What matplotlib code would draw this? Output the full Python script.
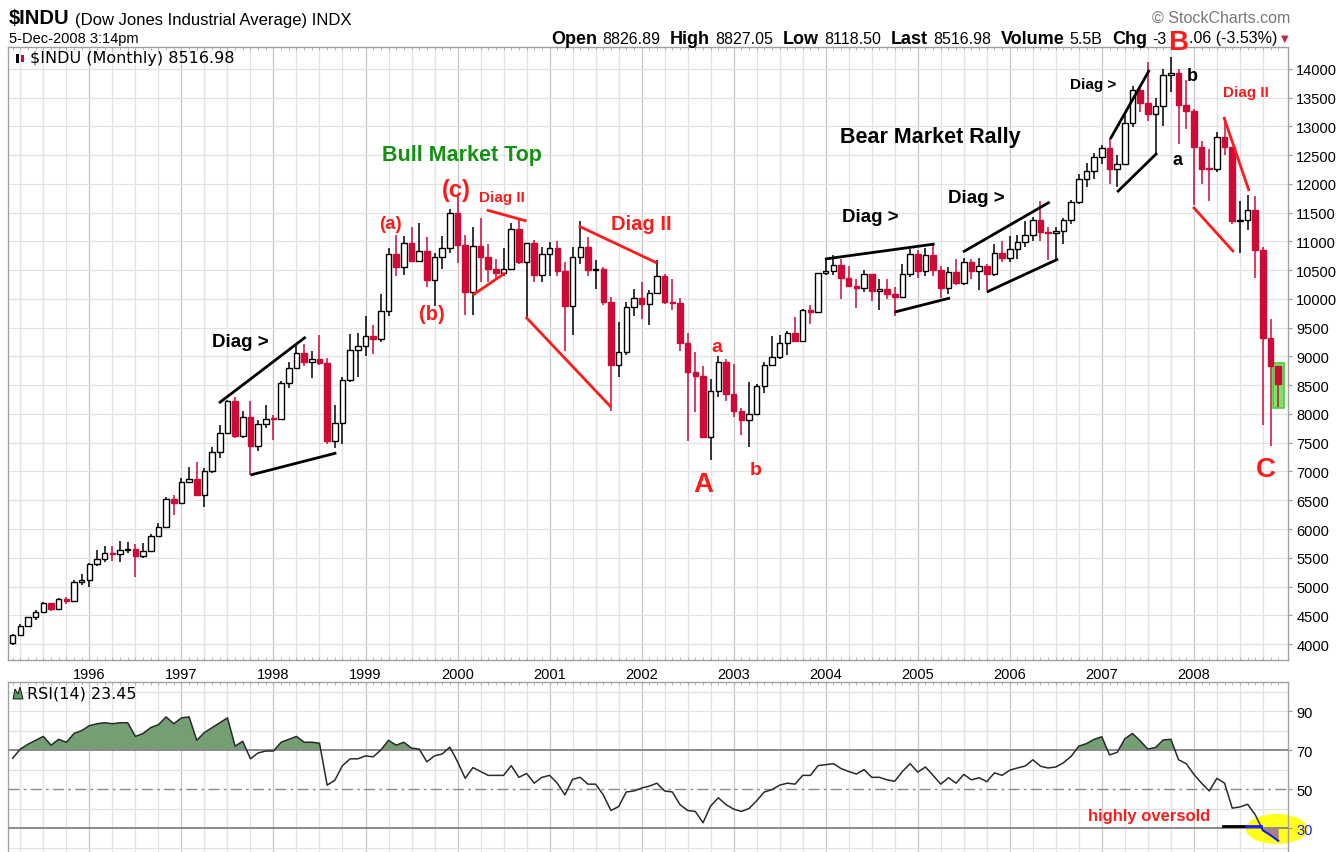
import numpy as np
import matplotlib.pyplot as plt
from matplotlib import font_manager
from matplotlib.patches import Rectangle, Ellipse, Polygon

# $INDU monthly candles, Mar-1995 .. Dec-2008
first_open = 4011
close = [
    4158, 4321, 4465, 4556, 4708, 4611, 4789, 4756, 5074, 5117,                   # 1995
    5395, 5486, 5587, 5569, 5643, 5655, 5529, 5616, 5882, 6029, 6522, 6448,       # 1996
    6813, 6878, 6583, 7009, 7331, 7673, 8223, 7622, 7945, 7442, 7823, 7908,       # 1997
    7907, 8546, 8800, 9063, 8900, 8952, 8883, 7539, 7843, 8592, 9117, 9181,       # 1998
    9359, 9307, 9786, 10789, 10560, 10971, 10655, 10829, 10337, 10730, 10878, 11497,  # 1999
    10941, 10128, 10922, 10734, 10522, 10448, 10522, 11215, 10651, 10971, 10414, 10787,  # 2000
    10887, 10495, 9879, 10735, 10912, 10502, 10523, 9950, 8848, 9075, 9852, 10022,  # 2001
    9920, 10106, 10404, 9946, 9925, 9243, 8737, 8664, 7592, 8397, 8896, 8342,     # 2002
    8054, 7891, 7992, 8480, 8850, 8985, 9234, 9416, 9275, 9801, 9782, 10454,      # 2003
    10488, 10584, 10358, 10226, 10188, 10435, 10140, 10174, 10080, 10027, 10428, 10783,  # 2004
    10490, 10766, 10504, 10193, 10467, 10275, 10641, 10482, 10569, 10440, 10806, 10718,  # 2005
    10865, 10993, 11109, 11367, 11168, 11150, 11186, 11381, 11679, 12081, 12222, 12463,  # 2006
    12622, 12269, 12354, 13063, 13628, 13409, 13212, 13358, 13896, 13930, 13372, 13265,  # 2007
    12650, 12266, 12263, 12820, 12638, 11350, 11378, 11544, 10851, 9325, 8829, 8517,     # 2008
]
high = [
    4173, 4345, 4473, 4589, 4728, 4715, 4801, 4825, 5105, 5216,
    5405, 5630, 5700, 5700, 5800, 5780, 5740, 5750, 5905, 6100, 6560, 6600,
    6880, 7080, 7160, 7060, 7420, 7800, 8250, 8300, 8050, 8230, 7900, 8150,
    7990, 8580, 8900, 9210, 9220, 9100, 9370, 8970, 8160, 8650, 9390, 9400,
    9700, 9550, 10080, 10880, 11110, 11090, 11250, 11330, 11080, 10800, 11090, 11570,
    11800, 11120, 11250, 11400, 10960, 10700, 10890, 11320, 11400, 10980, 11020, 10900,
    10990, 11010, 10650, 10900, 11350, 11070, 10670, 10560, 10030, 9600, 9940, 10180,
    10300, 10160, 10670, 10440, 10350, 10010, 9400, 9080, 8830, 8600, 9010, 8960,
    8870, 8100, 8560, 8520, 8900, 9350, 9370, 9440, 9690, 9830, 9900, 10460,
    10700, 10760, 10700, 10580, 10350, 10500, 10420, 10350, 10350, 10200, 10600, 10870,
    10860, 10880, 10980, 10570, 10550, 10700, 10720, 10700, 10720, 10600, 10950, 11000,
    11100, 11110, 11350, 11430, 11700, 11250, 11260, 11400, 11730, 12170, 12360, 12530,
    12680, 12800, 12500, 13200, 13700, 13700, 14120, 13500, 14000, 14200, 14000, 13800,
    13300, 12750, 12600, 12900, 13150, 12650, 11700, 11800, 11790, 10900, 9650, 8830,
]
low = [
    3980, 4150, 4295, 4420, 4545, 4570, 4610, 4690, 4740, 5030,
    5000, 5360, 5420, 5440, 5420, 5580, 5170, 5500, 5600, 5880, 6020, 6240,
    6430, 6800, 6580, 6390, 6970, 7230, 7650, 7590, 7580, 6940, 7350, 7750,
    7540, 7900, 8460, 8860, 8840, 8630, 8850, 7480, 7400, 7470, 8560, 8650,
    9000, 9050, 9250, 9700, 10400, 10420, 10650, 10650, 10200, 9880, 10530, 10800,
    10630, 9730, 9730, 10300, 10300, 10330, 10400, 10560, 10600, 9650, 10300, 10300,
    10400, 10400, 9100, 9380, 10600, 10400, 10170, 9900, 8060, 8650, 9030, 9700,
    9650, 9540, 10090, 9910, 9800, 9090, 7530, 8040, 7580, 7200, 8300, 8230,
    7950, 7630, 7420, 7990, 8360, 8830, 8960, 9030, 9260, 9280, 9560, 9750,
    10420, 10420, 10000, 10200, 9850, 10130, 9960, 9800, 10000, 9710, 10030, 10380,
    10360, 10400, 10400, 10010, 10090, 10250, 10250, 10350, 10160, 10160, 10400, 10650,
    10650, 10700, 10900, 11000, 11000, 10680, 10700, 10950, 11300, 11650, 11950, 12080,
    12350, 12000, 11940, 12340, 12990, 13250, 13100, 12500, 13000, 13600, 12700, 12950,
    11630, 12000, 11700, 12200, 12500, 11300, 10800, 11200, 10365, 7800, 7450, 8118,
]
rsi = [
    65.8, 70.5, 73, 75, 77, 72.5, 75.5, 74, 78.5, 80,
    82.5, 83.5, 84, 83.5, 84, 84, 77, 78.5, 81.5, 83, 87, 83.5,
    86.5, 87, 75, 79, 81.5, 84, 86.5, 72, 74.5, 65.5, 68.5, 69.5,
    69.5, 74, 75.5, 77, 74, 74, 73.5, 52, 54.5, 62, 65.5, 65.5,
    67, 66.5, 70, 75, 72.5, 74, 71, 70.5, 64, 67, 68, 71.5,
    64, 55.5, 61, 59, 57, 57, 57, 62, 56, 58, 53, 56,
    57, 53, 47, 55, 56, 52.5, 52.5, 47, 39, 41, 48.5, 49,
    50.5, 51.5, 53, 49, 48.5, 42, 39, 38.5, 32.7, 41.3, 45.5, 42,
    39.7, 38.5, 40, 44, 48.5, 49.7, 52, 53, 52.5, 57, 57, 62,
    62.5, 63, 60.5, 59, 57.7, 60, 56, 56, 54.7, 54, 59, 63,
    58.7, 61.3, 57, 52.5, 55.8, 53, 57.5, 54.7, 55.8, 53.8, 58.3, 57,
    59.7, 60.8, 61.8, 65, 61.7, 60.8, 61.3, 63.5, 66.8, 72, 73.3, 75.5,
    76.8, 67.5, 68.8, 75.8, 78.5, 74.7, 70.5, 71.3, 75.2, 75.5, 65, 63,
    57.5, 53, 49, 55.5, 53, 40.2, 40.8, 42.2, 36.8, 28.8, 26.3, 23.45,
]
years = list(range(1996, 2009))

RED = '#cf0a37'
ARED = '#ff1a1a'
GRIDC = '#e2e2e2'
YEARC = '#c6c6c6'

names = {f.name for f in font_manager.fontManager.ttflist}
NARROW = 'Liberation Sans Narrow' if 'Liberation Sans Narrow' in names else 'Liberation Sans'
plt.rcParams['font.family'] = ['Liberation Sans', 'DejaVu Sans']

W, H = 1341, 853
fig = plt.figure(figsize=(W / 100, H / 100), dpi=100, facecolor='white')


def fx(p):
    return p / W


def fy(p):
    return 1 - p / H


ax = fig.add_axes([fx(8), fy(661), fx(1288) - fx(8), fy(48) - fy(661)])
ax2 = fig.add_axes([fx(8), 0, fx(1288) - fx(8), fy(683)])

n = len(close)
x = np.arange(n)
c = np.array(close, float)
o = np.array([first_open] + close[:-1], float)
h = np.array(high, float)
l = np.array(low, float)
r = np.array(rsi, float)
jan_idx = [10 + 12 * k for k in range(len(years))]

for a in (ax, ax2):
    a.set_xlim(-0.61, 166.27)
    for q in range(1, n, 3):
        a.axvline(q, color=YEARC if q in jan_idx else GRIDC, lw=0.9, zorder=0.5)
    for s in a.spines.values():
        s.set_color('#a0a0a0')
        s.set_linewidth(1.0)
    a.set_xticks(x, minor=True)
    a.tick_params(axis='x', which='minor', direction='in', length=2.5,
                  top=True, bottom=True, color='#aaaaaa')

# ---- price panel
ax.set_ylim(3722, 14382)
for v in range(4000, 14001, 500):
    ax.axhline(v, color=GRIDC, lw=0.9, zorder=0.5)

down = c < o
wick_col = [RED if d else 'black' for d in down]
ax.vlines(x, l, h, colors=wick_col, lw=1.1, zorder=3)
body_bot = np.minimum(o, c)
body_h = np.maximum(np.abs(c - o), 15)
ax.bar(x, body_h, bottom=body_bot, width=0.72,
       color=[RED if d else 'white' for d in down],
       edgecolor=[RED if d else 'black' for d in down], linewidth=1.0, zorder=4)

# highlight of the current bar
ax.add_patch(Rectangle((n - 1 - 0.7, 8104), 1.4, 782, facecolor='#7be36a',
                       edgecolor='#4ccc3a', lw=1.2, zorder=2.5))

ax.yaxis.tick_right()
ax.set_yticks(range(4000, 14001, 500))
ax.tick_params(axis='y', which='major', length=3, color='#999999', pad=3, labelsize=10.5)
ax.set_xticks(jan_idx)
ax.set_xticklabels([str(y) for y in years])
ax.tick_params(axis='x', which='major', length=0, pad=5, labelsize=10.5)

# hand-drawn trend lines
black_lines = [((26.9, 8191), (38.2, 9339)), ((31.0, 6939), (42.2, 7322)),
               ((105.9, 10695), (120.2, 10956)), ((115.0, 9773), (122.2, 10017)),
               ((123.9, 10817), (135.2, 11686)), ((127.0, 10121), (136.3, 10695)),
               ((143.1, 12782), (148.2, 13982)), ((144.0, 11860), (149.2, 12538))]
red_lines = [((61.8, 11547), (67.0, 11356)), ((60.0, 10069), (64.2, 10452)),
             ((73.8, 11269), (84.0, 10626)), ((66.9, 9687), (78.0, 8121)),
             ((157.9, 13165), (161.2, 11878)), ((153.9, 11600), (159.2, 10817))]
for (p1, p2) in black_lines:
    ax.plot([p1[0], p2[0]], [p1[1], p2[1]], color='black', lw=2.0, zorder=5,
            solid_capstyle='butt')
for (p1, p2) in red_lines:
    ax.plot([p1[0], p2[0]], [p1[1], p2[1]], color=ARED, lw=2.0, zorder=5,
            solid_capstyle='butt')

labels = [
    ('Diag >', 26.0, 9269, 13.5, 'black', 'left'),
    ('Bull Market Top', 48.2, 12504, 15.5, '#159015', 'left'),
    ('(c)', 57.9, 11912, 17, ARED, 'center'),
    ('(a)', 49.3, 11304, 13.5, ARED, 'center'),
    ('(b)', 54.7, 9739, 14.5, ARED, 'center'),
    ('Diag II', 60.8, 11773, 11, ARED, 'left'),
    ('Diag II', 78.0, 11304, 14.5, ARED, 'left'),
    ('A', 90.1, 6782, 20, ARED, 'center'),
    ('a', 91.8, 9182, 14, ARED, 'center'),
    ('b', 96.8, 7043, 14, ARED, 'center'),
    ('Diag >', 108.1, 11426, 13.5, 'black', 'left'),
    ('Diag >', 121.9, 11773, 13.5, 'black', 'left'),
    ('Bear Market Rally', 107.9, 12817, 15.5, 'black', 'left'),
    ('Diag >', 137.8, 13739, 11, 'black', 'left'),
    ('a', 151.8, 12434, 13, 'black', 'center'),
    ('b', 153.8, 13878, 13, 'black', 'center'),
    ('Diag II', 157.8, 13599, 11, ARED, 'left'),
    ('C', 163.4, 7043, 20, ARED, 'center'),
]
for s, xi, yv, fs, col, ha in labels:
    ax.text(xi, yv, s, fontsize=fs, color=col, fontweight='bold', ha=ha,
            va='center', zorder=6)

# ---- RSI panel
ax2.set_ylim(17.7, 104.9)
for v in (20, 40, 60, 80, 90, 100):
    ax2.axhline(v, color=GRIDC, lw=0.9, zorder=0.5)
ax2.add_patch(Ellipse((164.8, 29.5), 8.1, 15.4, facecolor='#ffff1a',
                      edgecolor='none', zorder=1, clip_on=False))
ax2.axhline(70, color='#8a8a8a', lw=1.4, zorder=3)
ax2.axhline(30, color='#8a8a8a', lw=1.4, zorder=3)
ax2.axhline(50, color='#8a8a8a', lw=1.0, zorder=3, dashes=(8, 3, 2, 3))
ax2.fill_between(x, r, 70, where=r >= 70, interpolate=True, color='#739f73',
                 lw=0, zorder=2)
ax2.fill_between(x, r, 30, where=r <= 30, interpolate=True, color='#a98287',
                 lw=0, zorder=2)
ax2.plot(x, r, color='#2a2a2a', lw=1.1, zorder=4)
# blue marking of the oversold leg
ax2.plot([157.8, 160.8], [31.2, 31.2], color='black', lw=2.0, zorder=5)
ax2.plot([160.8, 162.7], [31.2, 31.2], color='#1a1aff', lw=2.0, zorder=5)
ax2.plot([162.7] + list(x[163:]), [31.2] + list(r[163:]), color='#1a1aff',
         lw=1.4, zorder=5)
ax2.text(140.2, 36.2, 'highly oversold', color=ARED, fontsize=12,
         fontweight='bold', va='center', ha='left', zorder=6)

ax2.yaxis.tick_right()
ax2.set_yticks([30, 50, 70, 90])
ax2.tick_params(axis='y', which='major', length=3, color='#999999', pad=3, labelsize=10.5)
ax2.get_yticklabels()[0].set_color('#1a1aff')
ax2.set_xticks([])
ax2.spines['bottom'].set_visible(False)
ax2.tick_params(axis='x', which='minor', bottom=False)

# ---- header text
rend = fig.canvas.get_renderer()
HF = [NARROW, 'DejaVu Sans']


def text_w(s, fs, bold):
    t = fig.text(0, 0, s, fontsize=fs, fontweight='bold' if bold else 'normal', family=HF)
    w = t.get_window_extent(rend).width
    t.remove()
    return w


fig.text(fx(9), fy(19), '$INDU', fontsize=14.5, fontweight='bold',
         family=HF, va='center', ha='left')
fig.text(fx(9 + text_w('$INDU', 14.5, True) + 5), fy(20),
         '(Dow Jones Industrial Average) INDX', fontsize=12,
         family=HF, va='center', ha='left')
fig.text(fx(9), fy(39), '5-Dec-2008 3:14pm', fontsize=10.5,
         family=HF, va='center', ha='left')
fig.text(fx(1290), fy(18), '\u00a9 StockCharts.com', fontsize=11.5,
         color='#777777', va='center', ha='right')

# quote line; the "B" label of the chart hides two digits of the change value
pieces = [('Open', True), ('8826.89', False), ('High', True), ('8827.05', False),
          ('Low', True), ('8118.50', False), ('Last', True), ('8516.98', False),
          ('Volume', True), ('5.5B', False), ('Chg', True), ('-3', False),
          ('.06 (-3.53%)', False)]
BF, VF = 13, 11.5
widths = [text_w(s, BF if b else VF, b) for s, b in pieces]
gaps = [5 if b else 10 for s, b in pieces]
gaps[-2] = 22          # room taken by the red "B"
total = sum(widths) + sum(gaps[:-1])
xp = 1277 - total
b_center = None
for k, ((s, b), w, g) in enumerate(zip(pieces, widths, gaps)):
    fig.text(fx(xp), fy(39), s, fontsize=BF if b else VF,
             fontweight='bold' if b else 'normal', family=HF,
             va='center', ha='left')
    if k == len(pieces) - 2:
        b_center = xp + w + g / 2
    xp += w + g
fig.text(fx(1285), fy(39), '\u25bc', fontsize=7, color='#c02848', va='center',
         ha='center', family='DejaVu Sans')

fig.text(fx(b_center), fy(43), 'B', fontsize=20, fontweight='bold', color=ARED,
         ha='center', va='center', zorder=10)

# panel captions
fig.text(fx(30), fy(59), '$INDU (Monthly) 8516.98', fontsize=11.5,
         family='DejaVu Sans', va='center', ha='left', zorder=10)
fig.text(fx(27), fy(694), 'RSI(14) 23.45', fontsize=11.5,
         family='DejaVu Sans', va='center', ha='left', zorder=10)
fig.patches.append(Polygon([[fx(13), fy(700)], [fx(15), fy(690)], [fx(18), fy(695)],
                            [fx(20), fy(688)], [fx(23), fy(700)]], closed=True,
                           facecolor='#5e9a5e', edgecolor='black', lw=0.6,
                           transform=fig.transFigure, figure=fig))
fig.patches.append(Rectangle((fx(16), fy(64)), fx(3), fy(55) - fy(64), facecolor='black',
                             transform=fig.transFigure, figure=fig))
fig.patches.append(Rectangle((fx(21), fy(63)), fx(3), fy(56) - fy(63), facecolor=RED,
                             transform=fig.transFigure, figure=fig))

fig.savefig('out.png', dpi=100)
